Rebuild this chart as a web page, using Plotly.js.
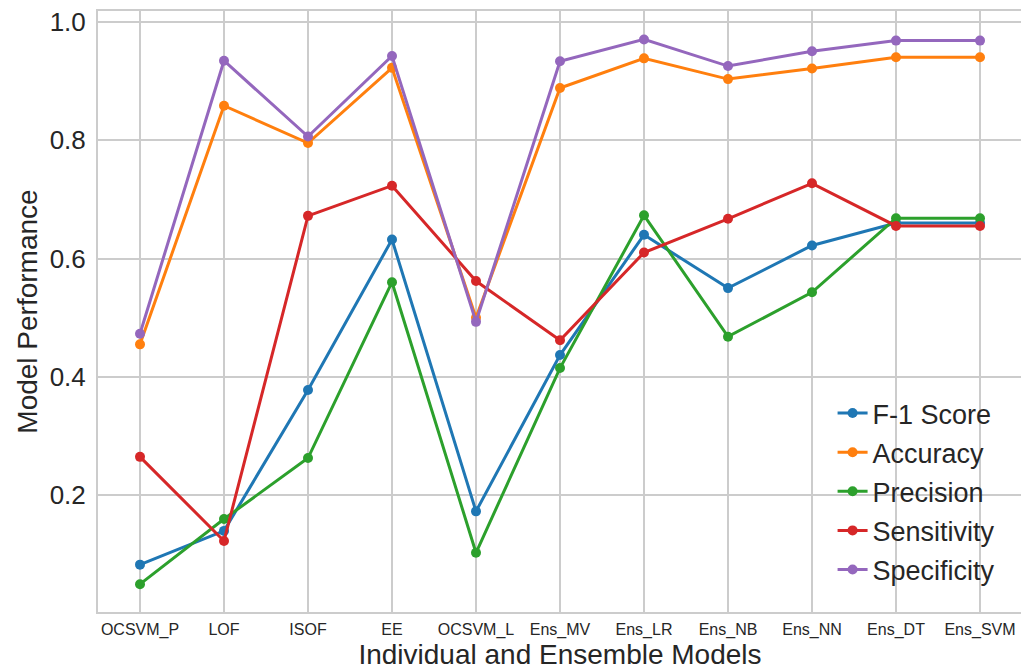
<!DOCTYPE html>
<html><head><meta charset="utf-8">
<script src="https://cdn.plot.ly/plotly-3.0.1.min.js"></script>
<style>html,body{margin:0;padding:0;overflow:hidden;background:#fff}</style>
</head><body><div id="chart"></div>
<script>
const models = ["OCSVM_P","LOF","ISOF","EE","OCSVM_L","Ens_MV","Ens_LR","Ens_NB","Ens_NN","Ens_DT","Ens_SVM"];
const f1Score     = [0.083, 0.140, 0.378, 0.632, 0.173, 0.437, 0.640, 0.550, 0.622, 0.660, 0.660];
const accuracy    = [0.455, 0.858, 0.795, 0.922, 0.500, 0.888, 0.938, 0.903, 0.921, 0.940, 0.940];
const precision   = [0.050, 0.160, 0.263, 0.560, 0.103, 0.415, 0.673, 0.468, 0.543, 0.668, 0.668];
const sensitivity = [0.265, 0.123, 0.672, 0.723, 0.562, 0.462, 0.610, 0.667, 0.727, 0.655, 0.655];
const specificity = [0.473, 0.934, 0.806, 0.942, 0.493, 0.933, 0.970, 0.925, 0.950, 0.968, 0.968];
const seriesNames = ["F-1 Score","Accuracy","Precision","Sensitivity","Specificity"];
const seriesColors = ["#1f77b4","#ff7f0e","#2ca02c","#d62728","#9467bd"];
const yTicks = [0.2,0.4,0.6,0.8,1.0];

const allSeries = [f1Score, accuracy, precision, sensitivity, specificity];
const xIdx = models.map((m,i)=>i);
const traces = allSeries.map((vals,k)=>({
  x: xIdx, y: vals, name: seriesNames[k], type:'scatter', mode:'lines+markers',
  legendgroup: 'g'+k,
  line:{color:seriesColors[k], width:3},
  marker:{color:seriesColors[k], size:10}
}));

const font = "Liberation Sans, Arial, Helvetica, sans-serif";
const layout = {
  width:1024, height:672,
  margin:{l:98, r:2, t:11, b:60},
  paper_bgcolor:'#fff', plot_bgcolor:'#fff',
  font:{family:font, color:'#262626'},
  showlegend:true,
  legend:{x:0.795, y:0.371, xanchor:'left', yanchor:'top', font:{size:27, color:'#262626'},
          tracegroupgap:1, bgcolor:'rgba(255,255,255,0)', borderwidth:0},
  xaxis:{
    range:[-0.5,10.5], tickmode:'array', tickvals:xIdx, ticktext:models,
    tickfont:{size:16, color:'#262626'}, showgrid:true, gridcolor:'#cccccc', gridwidth:2,
    showline:true, linecolor:'#cccccc', linewidth:2, mirror:true, zeroline:false, ticks:'', ticklabelstandoff:2,
    title:{text:'Individual and Ensemble Models', font:{size:28, color:'#262626'}, standoff:5}
  },
  yaxis:{
    range:[0.003,1.018], tickmode:'array', tickvals:yTicks, ticktext:yTicks.map(v=>v.toFixed(1)),
    tickfont:{size:26, color:'#262626'}, showgrid:true, gridcolor:'#cccccc', gridwidth:2,
    showline:true, linecolor:'#cccccc', linewidth:2, mirror:true, zeroline:false, ticks:'', ticklabelstandoff:5,
    title:{text:'Model Performance', font:{size:28, color:'#262626'}, standoff:4}
  }
};
Plotly.newPlot('chart', traces, layout, {displayModeBar:false, staticPlot:true});
</script></body></html>
